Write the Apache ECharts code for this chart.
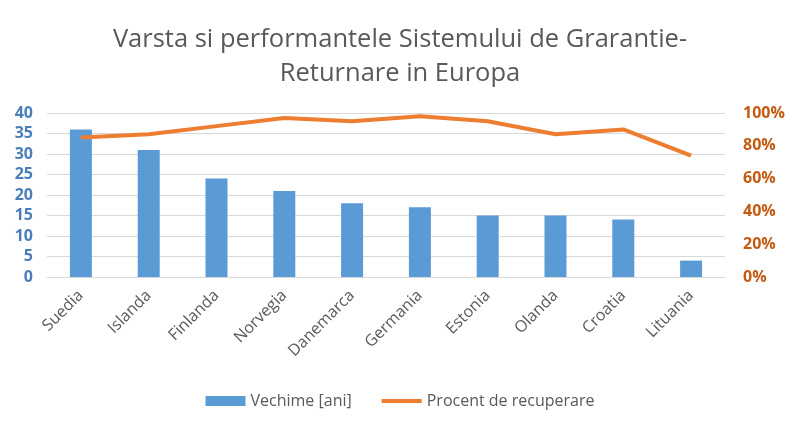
<!DOCTYPE html>
<html><head><meta charset="utf-8">
<script src="https://cdn.jsdelivr.net/npm/echarts@6/dist/echarts.min.js"></script>
<style>html,body{margin:0;padding:0;background:#fff}#c{width:800px;height:429px}</style>
</head><body><div id="c"></div>
<script>
var categories = ["Suedia","Islanda","Finlanda","Norvegia","Danemarca","Germania","Estonia","Olanda","Croatia","Lituania"];
var vechime = [36,31,24,21,18,17,15,15,14,4];
var procent = [85,87,92,97,95,98,95,87,90,74];
var leftTicks = {min:0,max:40,interval:5};
var rightTicks = {min:0,max:100,interval:20};

var chart = echarts.init(document.getElementById('c'));
chart.setOption({
  animation:false,
  backgroundColor:'#fff',
  title:{
    text:'Varsta si performantele Sistemului de Grarantie-\nReturnare in Europa',
    left:'center', top:18,
    textStyle:{fontFamily:'Open Sans',fontWeight:'normal',fontSize:25.5,color:'#595959',lineHeight:34}
  },
  legend:{
    bottom:15, left:'center', itemGap:30,
    textStyle:{fontFamily:'Open Sans',fontSize:16,color:'#595959'},
    data:[
      {name:'Vechime [ani]',icon:'rect',itemStyle:{color:'#5B9BD5'}},
      {name:'Procent de recuperare',icon:'path://M0,0 L40,0 L40,4 L0,4 Z'}
    ],
    itemWidth:40,itemHeight:10
  },
  grid:{left:47,right:75,top:113,bottom:152},
  xAxis:{
    type:'category',data:categories,
    axisLine:{show:true,lineStyle:{color:'#d9d9d9'}},
    axisTick:{show:false},
    axisLabel:{rotate:45,fontFamily:'Open Sans',fontSize:16,color:'#595959',margin:16,interval:0}
  },
  yAxis:[
    {type:'value',min:leftTicks.min,max:leftTicks.max,interval:leftTicks.interval,
     axisLine:{show:false},axisTick:{show:false},
     splitLine:{lineStyle:{color:'#d9d9d9'}},
     axisLabel:{fontFamily:'Open Sans',fontSize:16,fontWeight:'bold',color:'#4a7ebb',margin:14}},
    {type:'value',min:rightTicks.min,max:rightTicks.max,interval:rightTicks.interval,
     axisLine:{show:false},axisTick:{show:false},splitLine:{show:false},
     axisLabel:{fontFamily:'Open Sans',fontSize:16,fontWeight:'bold',color:'#c55a11',margin:18,formatter:'{value}%'}}
  ],
  series:[
    {name:'Vechime [ani]',type:'bar',data:vechime,barWidth:22,itemStyle:{color:'#5B9BD5'},yAxisIndex:0},
    {name:'Procent de recuperare',type:'line',data:procent,yAxisIndex:1,
     showSymbol:false,symbol:'none',lineStyle:{color:'#ED7D31',width:4},itemStyle:{color:'#ED7D31'}}
  ]
});
</script></body></html>
